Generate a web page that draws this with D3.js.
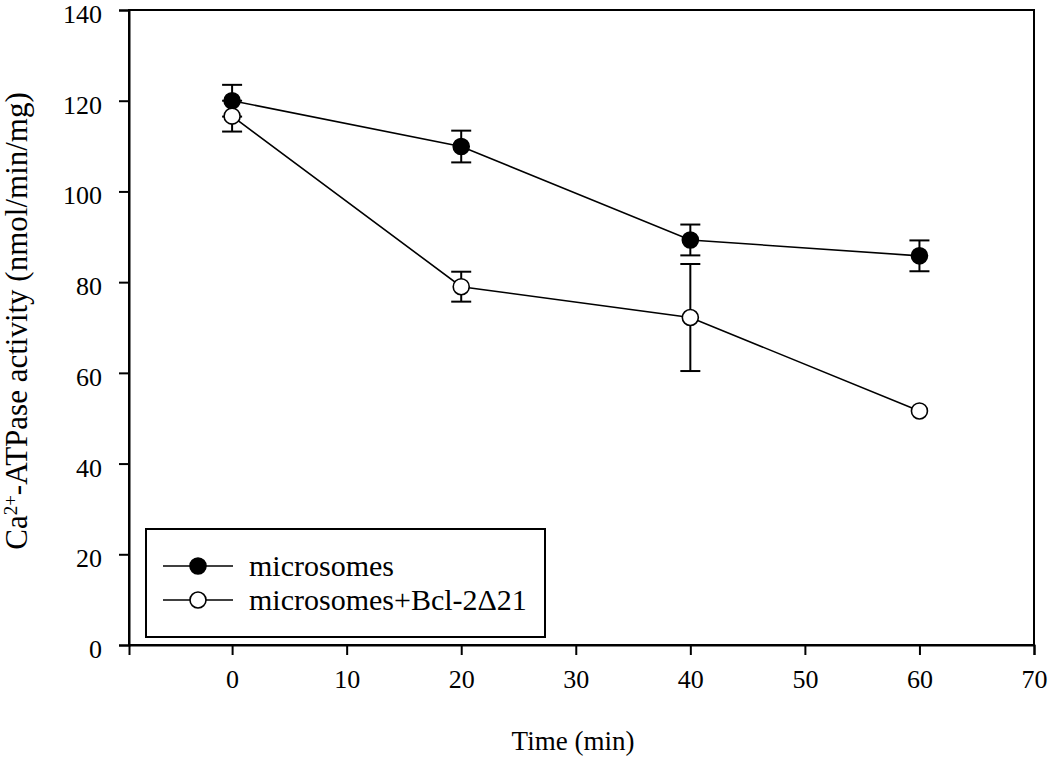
<!DOCTYPE html>
<html><head><meta charset="utf-8">
<script src="https://cdn.jsdelivr.net/npm/d3@7"></script>
<style>body{margin:0;background:#fff}svg{display:block}text{font-family:"Liberation Serif","Times New Roman",serif;fill:#000}</style>
</head><body><svg id="c" width="1050" height="759"></svg>
<script>
const times = [0, 20, 40, 60];
const microsomes = [120.0, 109.9, 89.3, 85.8];
const microsomesErr = [3.5, 3.5, 3.4, 3.4];
const bcl = [116.6, 79.0, 72.2, 51.6];
const bclErr = [3.4, 3.3, 11.8, 0];
const xTicks = [0, 10, 20, 30, 40, 50, 60, 70];
const yTicks = [0, 20, 40, 60, 80, 100, 120, 140];
const seriesNames = ["microsomes", "microsomes+Bcl-2\u039421"];

const svg = d3.select("#c");
const L = 129, R = 1034, T = 10, B = 645;
const x = d3.scaleLinear().domain([-9, 70]).range([L, R]);
const y = d3.scaleLinear().domain([0, 140]).range([B, T]);

svg.append("rect").attr("x", L).attr("y", T).attr("width", R - L).attr("height", B - T)
  .attr("fill", "none").attr("stroke", "#000").attr("stroke-width", 2);

const xAxis = svg.append("g").attr("transform", `translate(0,${B})`)
  .call(d3.axisBottom(x).tickValues(xTicks).tickSize(10).tickPadding(15).tickFormat(d3.format("d")));
const yAxis = svg.append("g").attr("transform", `translate(${L},0)`)
  .call(d3.axisLeft(y).tickValues(yTicks).tickSize(10).tickPadding(17).tickFormat(d3.format("d")));
[xAxis, yAxis].forEach(g => {
  g.attr("font-family", null).attr("font-size", null);
  g.select(".domain").attr("stroke-width", 2);
  g.selectAll(".tick line").attr("stroke-width", 2);
  g.selectAll(".tick text").style("font-size", "26px").attr("fill", "#000");
});
yAxis.selectAll(".tick text").attr("dy", "0.48em");

svg.append("text").attr("x", 573).attr("y", 750).attr("text-anchor", "middle")
  .style("font-size", "27px").text("Time (min)");

const yl = svg.append("text").attr("transform", "translate(27,321) rotate(-90)")
  .attr("text-anchor", "middle").style("font-size", "31px");
yl.append("tspan").text("Ca");
yl.append("tspan").attr("dy", -10).style("font-size", "19px").text("2+");
yl.append("tspan").attr("dy", 10).text("-ATPase activity (nmol/min/mg)");

const line = d3.line().x((d, i) => x(times[i])).y(d => y(d));
const data = [
  {vals: microsomes, err: microsomesErr, fill: "#000"},
  {vals: bcl, err: bclErr, fill: "#fff"}
];
data.forEach(s => {
  svg.append("path").attr("d", line(s.vals)).attr("fill", "none").attr("stroke", "#000").attr("stroke-width", 1.6);
});
data.forEach(s => {
  const g = svg.append("g").attr("stroke", "#000").attr("stroke-width", 2);
  s.vals.forEach((v, i) => {
    if (!s.err[i]) return;
    const cx = x(times[i]);
    g.append("line").attr("x1", cx).attr("x2", cx).attr("y1", y(v - s.err[i])).attr("y2", y(v + s.err[i]));
    [v - s.err[i], v + s.err[i]].forEach(e => {
      g.append("line").attr("x1", cx - 10).attr("x2", cx + 10).attr("y1", y(e)).attr("y2", y(e));
    });
  });
});
data.forEach(s => {
  svg.append("g").selectAll("circle").data(s.vals).join("circle")
    .attr("cx", (d, i) => x(times[i])).attr("cy", d => y(d)).attr("r", 8)
    .attr("fill", s.fill).attr("stroke", "#000").attr("stroke-width", 1.6);
});

const lg = svg.append("g");
lg.append("rect").attr("x", 146).attr("y", 529).attr("width", 399).attr("height", 108)
  .attr("fill", "#fff").attr("stroke", "#000").attr("stroke-width", 2);
const rows = [566, 600];
seriesNames.forEach((n, i) => {
  lg.append("line").attr("x1", 163).attr("x2", 233).attr("y1", rows[i]).attr("y2", rows[i])
    .attr("stroke", "#000").attr("stroke-width", 1.6);
  lg.append("circle").attr("cx", 198).attr("cy", rows[i]).attr("r", 8)
    .attr("fill", data[i].fill).attr("stroke", "#000").attr("stroke-width", 1.6);
  lg.append("text").attr("x", 249).attr("y", rows[i] + 10).style("font-size", "30px").text(n);
});
</script></body></html>
